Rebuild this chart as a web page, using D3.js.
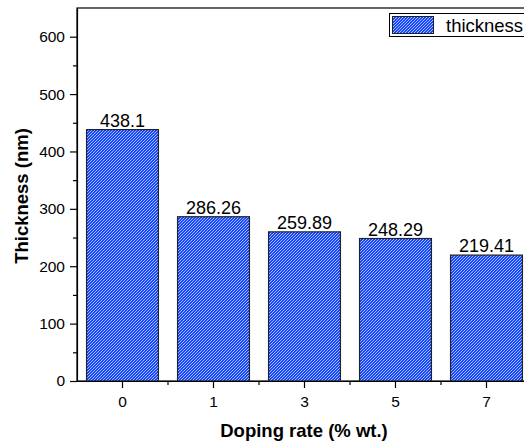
<!DOCTYPE html>
<head>
<meta charset="utf-8">
<title>Thickness vs doping rate</title>
<script src="https://cdn.jsdelivr.net/npm/d3@7/dist/d3.min.js"></script>
<style>
	body { margin: 0; background: #fff; }
	text { font-family: Arial, "Liberation Sans", sans-serif; fill: #000; }
	.axis path, .axis line { fill: none; stroke: #000; stroke-width: 1.2; }
</style>
</head>
<body>
<script>
var width = 524, height = 445;

// data
var dopingRates = ["0", "1", "3", "5", "7"];
var thickness = [438.1, 286.26, 259.89, 248.29, 219.41];
var yTicks = [0, 100, 200, 300, 400, 500, 600];
var yMinorTicks = [50, 150, 250, 350, 450, 550];

var dataset = dopingRates.map(function(r, i) { return [r, thickness[i]]; });

var svg = d3.select("body").append("svg")
	.attr("width", width)
	.attr("height", height);

// hatch pattern, fine diagonal stripes
var defs = svg.append("defs");
var pat = defs.append("pattern")
	.attr("id", "hatch")
	.attr("patternUnits", "userSpaceOnUse")
	.attr("width", 3).attr("height", 3);
pat.append("rect").attr("width", 3).attr("height", 3).attr("fill", "#1646ff");
pat.append("path")
	.attr("d", "M-1,1 L1,-1 M0,3 L3,0 M2,4 L4,2")
	.attr("stroke", "#d6e4ff").attr("stroke-width", 0.75);

var xScale = d3.scaleBand().domain(dopingRates).range([77, 532])
	.paddingInner(0.21).paddingOuter(0.105);
var yScale = d3.scaleLinear().domain([0, 650]).range([381, 8]);

// frame (top/right parts)
svg.append("rect")
	.attr("x", 77).attr("y", 8)
	.attr("width", 455).attr("height", 373)
	.attr("fill", "none").attr("stroke", "#000").attr("stroke-width", 1.2);

// bars
var bars = svg.selectAll(".bar").data(dataset).enter();
bars.append("rect")
	.attr("x", function(d) { return xScale(d[0]); })
	.attr("y", function(d) { return yScale(d[1]); })
	.attr("width", xScale.bandwidth())
	.attr("height", function(d) { return yScale(0) - yScale(d[1]); })
	.attr("fill", "url(#hatch)")
	.attr("stroke", "#222")
	.attr("stroke-width", 1.2);

bars.append("text")
	.attr("x", function(d) { return xScale(d[0]) + xScale.bandwidth() / 2; })
	.attr("y", function(d) { return yScale(d[1]) - 3; })
	.attr("text-anchor", "middle")
	.style("font-size", "18px")
	.text(function(d) { return d[1]; });

// y axis
var yAxis = svg.append("g").attr("class", "axis")
	.attr("transform", "translate(77,0)")
	.call(d3.axisLeft(yScale).tickValues(yTicks).tickSize(7).tickPadding(5).tickSizeOuter(0));
yAxis.selectAll("text").style("font-size", "15.5px").style("font-family", "Arial, 'Liberation Sans', sans-serif");
svg.append("g").attr("class", "axis")
	.attr("transform", "translate(77,0)")
	.call(d3.axisLeft(yScale).tickValues(yMinorTicks).tickSize(4).tickFormat("").tickSizeOuter(0))
	.select(".domain").remove();

// x axis
var xAxis = svg.append("g").attr("class", "axis")
	.attr("transform", "translate(0,381)")
	.call(d3.axisBottom(xScale).tickSize(7).tickPadding(8).tickSizeOuter(0));
xAxis.selectAll("text").style("font-size", "15.5px").style("font-family", "Arial, 'Liberation Sans', sans-serif");
var minorX = d3.range(1, dopingRates.length + 1).map(function(i) {
	return xScale.range()[0] + i * xScale.step();
});
svg.append("g").selectAll("line").data(minorX).enter().append("line")
	.attr("x1", function(d) { return d; }).attr("x2", function(d) { return d; })
	.attr("y1", 381).attr("y2", 385)
	.attr("stroke", "#000").attr("stroke-width", 1.2);

// axis titles
svg.append("text")
	.attr("x", 304).attr("y", 437)
	.attr("text-anchor", "middle")
	.style("font-size", "18.5px").style("font-weight", "bold")
	.text("Doping rate (% wt.)");
svg.append("text")
	.attr("transform", "translate(28,196) rotate(-90)")
	.attr("text-anchor", "middle")
	.style("font-size", "18.5px").style("font-weight", "bold")
	.text("Thickness (nm)");

// legend
var leg = svg.append("g");
leg.append("rect").attr("x", 389.5).attr("y", 13.5).attr("width", 150).attr("height", 23)
	.attr("fill", "#fff").attr("stroke", "#000").attr("stroke-width", 1);
leg.append("rect").attr("x", 392.5).attr("y", 16.5).attr("width", 41).attr("height", 17)
	.attr("fill", "url(#hatch)").attr("stroke", "#222").attr("stroke-width", 1);
leg.append("text").attr("x", 446).attr("y", 31.5)
	.style("font-size", "18.5px").text("thickness");
</script>
</body>
